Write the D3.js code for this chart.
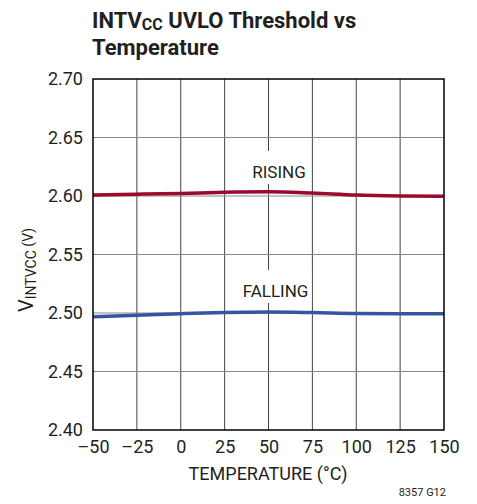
<!DOCTYPE html>
<html><head><meta charset="utf-8">
<script src="https://cdn.jsdelivr.net/npm/d3@7"></script>
<style>body{margin:0;background:#fff}svg{display:block}</style>
</head><body><div id="chart"></div>
<script>
const temps = [-50, -25, 0, 25, 50, 75, 100, 125, 150];
const rising = [2.6009, 2.6015, 2.6022, 2.6032, 2.6036, 2.6025, 2.6008, 2.6000, 2.5997];
const falling = [2.4968, 2.4980, 2.4994, 2.5005, 2.5009, 2.5004, 2.4996, 2.4994, 2.4994];
const xTicks = [-50, -25, 0, 25, 50, 75, 100, 125, 150];
const yTicks = [2.40, 2.45, 2.50, 2.55, 2.60, 2.65, 2.70];
const seriesLabels = [
  {t: "RISING", x: 56, v: 2.6154},
  {t: "FALLING", x: 54, v: 2.5137}
];

const W = 477, H = 504;
const m = {l: 93, r: 444, t: 79, b: 430};
const font = "Roboto,'Liberation Sans',sans-serif";
const ink = "#231f20";

const svg = d3.select("#chart").append("svg").attr("width", W).attr("height", H);
const x = d3.scaleLinear().domain([-50, 150]).range([m.l, m.r]);
const y = d3.scaleLinear().domain([2.40, 2.70]).range([m.b, m.t]);

// grid
svg.append("g").selectAll("line").data(xTicks.slice(1, -1)).join("line")
  .attr("x1", d => x(d)).attr("x2", d => x(d)).attr("y1", m.t).attr("y2", m.b)
  .attr("stroke", "#444").attr("stroke-width", 1);
svg.append("g").selectAll("line").data(yTicks.slice(1, -1)).join("line")
  .attr("x1", m.l).attr("x2", m.r).attr("y1", d => y(d)).attr("y2", d => y(d))
  .attr("stroke", "#888").attr("stroke-width", 1);

// series labels with white knockouts
const lg = svg.append("g");
const lt = lg.selectAll("text").data(seriesLabels).join("text")
  .attr("x", d => x(d.x)).attr("y", d => y(d.v))
  .attr("text-anchor", "middle").attr("font-family", font).attr("font-size", 17)
  .attr("fill", ink).text(d => d.t);
lt.each(function(d) {
  const b = this.getBBox();
  lg.insert("rect", "text").attr("x", b.x - 3).attr("width", b.width + 6)
    .attr("y", y(d.v) - 27).attr("height", 33).attr("fill", "#fff");
});

// lines
const line = d3.line().x((d, i) => x(temps[i])).y(d => y(d)).curve(d3.curveMonotoneX);
svg.append("path").datum(rising).attr("d", line).attr("fill", "none")
  .attr("stroke", "#9a0a2e").attr("stroke-width", 3.5);
svg.append("path").datum(falling).attr("d", line).attr("fill", "none")
  .attr("stroke", "#3853a6").attr("stroke-width", 3.5);

// frame
svg.append("rect").attr("x", m.l).attr("y", m.t).attr("width", m.r - m.l).attr("height", m.b - m.t)
  .attr("fill", "none").attr("stroke", "#000").attr("stroke-width", 1.5);

// axes
const xa = svg.append("g").attr("transform", `translate(0,${m.b})`)
  .call(d3.axisBottom(x).tickValues(xTicks).tickSize(0)
    .tickFormat(d => d < 0 ? "\u2013" + Math.abs(d) : d));
xa.select(".domain").remove();
xa.selectAll("text").attr("font-family", font).attr("font-size", 18).attr("fill", ink)
  .attr("dy", null).attr("y", 23);

const ya = svg.append("g").attr("transform", `translate(${m.l},0)`)
  .call(d3.axisLeft(y).tickValues(yTicks).tickSize(0).tickPadding(10).tickFormat(d3.format(".2f")));
ya.select(".domain").remove();
ya.selectAll("text").attr("font-family", font).attr("font-size", 18).attr("fill", ink);

svg.append("text").attr("x", 268).attr("y", 480).attr("text-anchor", "middle")
  .attr("font-family", font).attr("font-size", 18).attr("fill", ink).text("TEMPERATURE (°C)");

const yl = svg.append("text").attr("transform", `translate(33,270) rotate(-90)`)
  .attr("text-anchor", "middle").attr("font-family", font).attr("font-size", 20).attr("fill", ink);
yl.append("tspan").text("V");
yl.append("tspan").attr("font-size", 14).attr("dy", 3).text("INTVCC");
yl.append("tspan").attr("dy", -3).attr("font-size", 14).text(" (V)");

svg.append("text").attr("x", 446).attr("y", 496).attr("text-anchor", "end")
  .attr("font-family", font).attr("font-size", 11).attr("fill", ink).text("8357 G12");

// title
const tg = svg.append("g").attr("transform", "translate(92,0)");
const t1 = tg.append("text").attr("x", 0).attr("y", 28).attr("font-family", font)
  .attr("font-weight", "bold").attr("font-size", 22).attr("fill", ink);
t1.append("tspan").text("INTV");
t1.append("tspan").attr("font-size", 16).attr("dy", 2).text("CC");
t1.append("tspan").attr("dy", -2).text(" UVLO Threshold vs");
tg.append("text").attr("x", 0).attr("y", 55).attr("font-family", font)
  .attr("font-weight", "bold").attr("font-size", 22).attr("fill", ink).text("Temperature");
</script></body></html>
